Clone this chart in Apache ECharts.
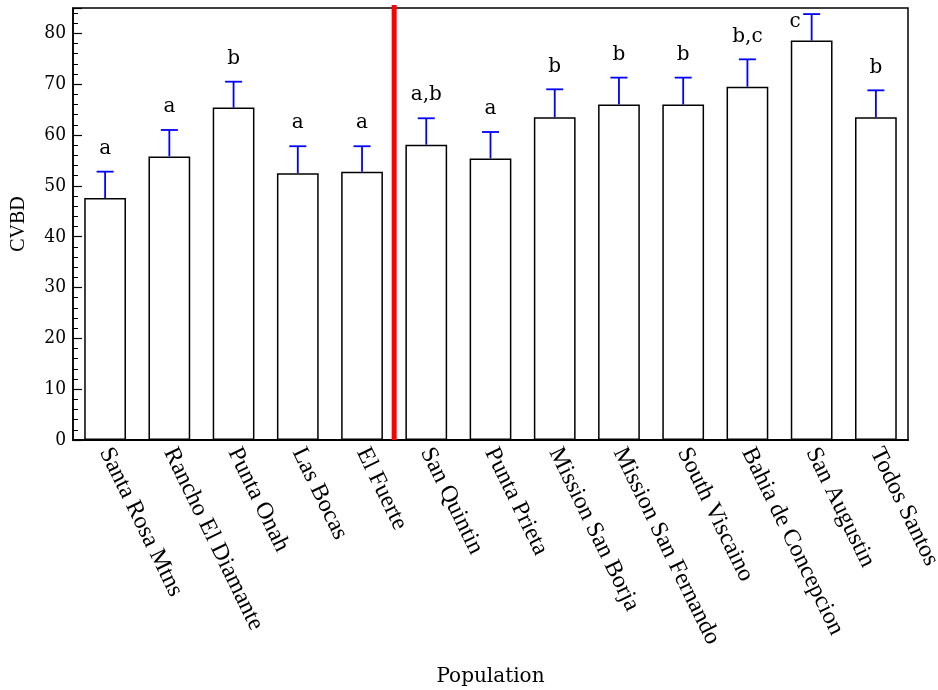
<!DOCTYPE html>
<html>
<head>
<meta charset="utf-8">
<script src="https://cdn.jsdelivr.net/npm/echarts@6/dist/echarts.min.js"></script>
<style>html,body{margin:0;padding:0;background:#fff}#c{width:938px;height:690px}</style>
</head>
<body>
<div id="c"></div>
<script>
const categories = ['Santa Rosa Mtns','Rancho El Diamante','Punta Onah','Las Bocas','El Fuerte','San Quintin','Punta Prieta','Mission San Borja','Mission San Fernando','South Viscaino','Bahia de Concepcion','San Augustin','Todos Santos'];
const means = [47.6, 55.8, 65.4, 52.5, 52.8, 58.1, 55.4, 63.5, 66.0, 66.0, 69.5, 78.6, 63.5];
const upperErr = [52.8, 61.0, 70.5, 57.8, 57.8, 63.3, 60.6, 69.0, 71.3, 71.3, 74.9, 83.8, 68.8];
const letters = ['a','a','b','a','a','a,b','a','b','b','b','b,c','c','b'];
const dividerAfterIndex = 4; // red line between El Fuerte and San Quintin
const yMin = 0, yMax = 85, yInterval = 10;

const chart = echarts.init(document.getElementById('c'));
const serifNum = "'DejaVu Serif Condensed','DejaVu Serif',serif";
const serifWide = "'DejaVu Serif',serif";
const serifTimes = "'Liberation Serif','Times New Roman',serif";

chart.setOption({
  animation: false,
  grid: {left: 73, right: 30, top: 8, bottom: 250, containLabel: false, outerBoundsMode: 'none',
    show: true, borderColor: '#000', borderWidth: 1.5, backgroundColor: 'transparent'},
  xAxis: {
    type: 'category', data: categories,
    axisLine: {lineStyle: {color: '#000', width: 2}},
    axisTick: {show: false},
    axisLabel: {interval: 0, rotate: -64, margin: 9, color: '#000', fontSize: 24, fontFamily: serifTimes},
    name: 'Population', nameLocation: 'middle', nameGap: 227,
    nameTextStyle: {color: '#000', fontSize: 20, fontFamily: serifWide, verticalAlign: 'top'}
  },
  yAxis: {
    type: 'value', min: yMin, max: yMax, interval: yInterval,
    axisLine: {show: true, lineStyle: {color: '#000', width: 1.5}},
    axisTick: {show: true, inside: true, length: 9, lineStyle: {color: '#000', width: 1.2}},
    minorTick: {show: true, splitNumber: 5, length: 5, lineStyle: {color: '#000', width: 1}},
    splitLine: {show: false},
    axisLabel: {showMaxLabel: false, margin: 7, color: '#000', fontSize: 19, fontFamily: serifNum,
      formatter: v => (v % yInterval === 0 ? String(v) : '')},
    name: 'CVBD', nameLocation: 'middle', nameGap: 44,
    nameTextStyle: {color: '#000', fontSize: 20, fontFamily: serifTimes}
  },
  series: [
    {
      type: 'bar', data: means, barCategoryGap: '35%',
      itemStyle: {color: '#fff', borderColor: '#000', borderWidth: 1.5},
      z: 2
    },
    {
      type: 'custom', z: 5,
      data: means.map((m, i) => [i, m, upperErr[i]]),
      renderItem: function (params, api) {
        const i = api.value(0);
        const base = api.coord([i, api.value(1)]);
        const top = api.coord([i, api.value(2)]);
        const cx = base[0];
        const capHalf = 8.5;
        const gridTopY = api.coord([i, yMax])[1];
        let lx = cx, ly = top[1] - 23;
        if (ly - 10 < gridTopY) { lx = cx - 16.5; ly = top[1] + 8; }
        return {
          type: 'group',
          children: [
            {type: 'line', shape: {x1: cx, y1: base[1], x2: cx, y2: top[1]}, style: {stroke: '#0000ff', lineWidth: 1.8}},
            {type: 'line', shape: {x1: cx - capHalf, y1: top[1], x2: cx + capHalf, y2: top[1]}, style: {stroke: '#0000ff', lineWidth: 1.8}},
            {type: 'text', x: lx, y: ly, style: {text: letters[params.dataIndex], fill: '#000', font: "20px 'DejaVu Serif',serif", align: 'center', verticalAlign: 'middle'}}
          ]
        };
      }
    },
    {
      type: 'custom', z: 10, clip: false,
      data: [[dividerAfterIndex, 0]],
      renderItem: function (params, api) {
        const i = api.value(0);
        const x = api.coord([i, 0])[0] + api.size([1, 0])[0] / 2;
        const yb = api.coord([i, yMin])[1];
        const yt = api.coord([i, yMax])[1] - 3;
        return {type: 'line', shape: {x1: x, y1: yt, x2: x, y2: yb}, style: {stroke: '#ff0000', lineWidth: 5}};
      }
    }
  ]
});
</script>
</body>
</html>
